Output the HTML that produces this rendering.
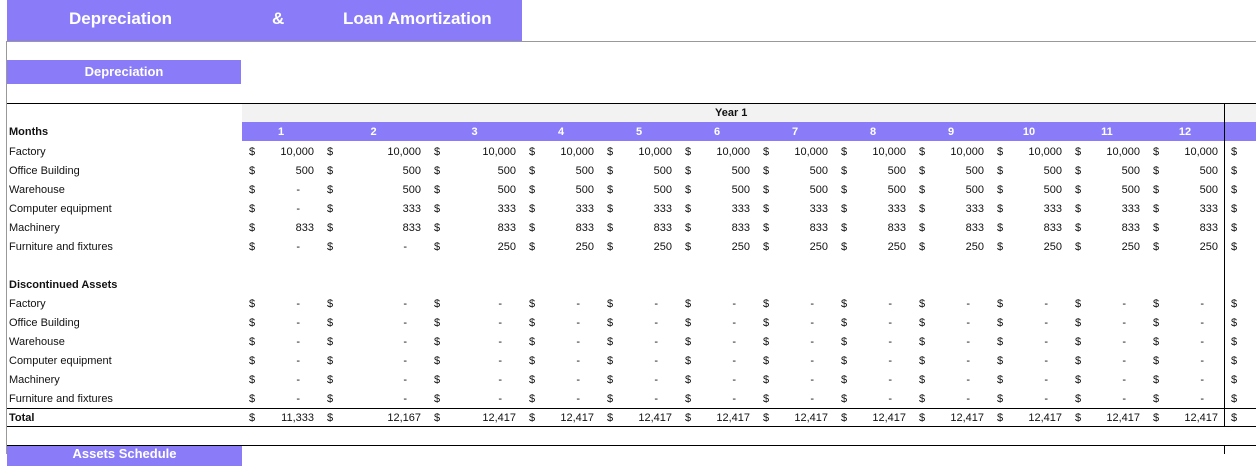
<!DOCTYPE html>
<html><head><meta charset="utf-8">
<style>
body{margin:0;width:1256px;height:454px;overflow:hidden;background:#fff;font-family:"Liberation Sans",sans-serif;font-size:11px;color:#111;position:relative}
.a{position:absolute;white-space:nowrap}
.p{background:#8a7cf8;color:#fff;font-weight:bold}
.hl{position:absolute;height:1px;background:#000}
</style></head><body>
<div class="a p" style="left:7px;top:0;width:515px;height:41px"></div>
<div class="a" style="left:69px;top:9px;color:#fff;font-weight:bold;font-size:17px">Depreciation</div>
<div class="a" style="left:272px;top:9px;color:#fff;font-weight:bold;font-size:17px">&amp;</div>
<div class="a" style="left:343px;top:9px;color:#fff;font-weight:bold;font-size:17px">Loan Amortization</div>
<div class="a" style="left:7px;top:41px;width:1249px;height:1px;background:#999"></div>
<div class="a" style="left:6px;top:41px;width:1px;height:413px;background:#999"></div>
<div class="a p" style="left:7px;top:60px;width:234px;height:24px;line-height:24px;text-align:center;font-size:13px">Depreciation</div>
<div class="hl" style="left:7px;top:103px;width:1249px"></div>
<div class="a" style="left:242px;top:104px;width:1014px;height:18px;background:#f2f2f2"></div>
<div class="a" style="left:715px;top:107px;font-weight:bold">Year 1</div>
<div class="a p" style="left:242px;top:122px;width:1014px;height:19px"></div>
<div class="hl" style="left:7px;top:408px;width:1249px"></div>
<div class="hl" style="left:7px;top:426px;width:1249px"></div>
<div class="hl" style="left:7px;top:445px;width:1249px"></div>
<div class="a" style="left:1224px;top:103px;width:1px;height:324px;background:#000"></div>
<div class="a" style="left:1224px;top:445px;width:1px;height:9px;background:#000"></div>
<div class="a p" style="left:7px;top:446px;width:235px;height:20px;line-height:16px;text-align:center;font-size:13px">Assets Schedule</div>
<div id="t"></div>
<script>
const months=[1,2,3,4,5,6,7,8,9,10,11,12];
const colStarts=[242,320,427,522,600,678,756,834,912,990,1068,1146,1224];
const rowLabels=["Factory","Office Building","Warehouse","Computer equipment","Machinery","Furniture and fixtures"];
const factory=[10000,10000,10000,10000,10000,10000,10000,10000,10000,10000,10000,10000];
const office=[500,500,500,500,500,500,500,500,500,500,500,500];
const warehouse=[0,500,500,500,500,500,500,500,500,500,500,500];
const computer=[0,333,333,333,333,333,333,333,333,333,333,333];
const machinery=[833,833,833,833,833,833,833,833,833,833,833,833];
const furniture=[0,0,250,250,250,250,250,250,250,250,250,250];
const discontinued=[0,0,0,0,0,0,0,0,0,0,0,0];
const totals=[11333,12167,12417,12417,12417,12417,12417,12417,12417,12417,12417,12417];
const T=document.getElementById('t');
function add(txt,l,t,extra){const d=document.createElement('div');d.className='a';d.textContent=txt;d.style.left=l+'px';d.style.top=t+'px';if(extra)d.style.cssText+=extra;T.appendChild(d);return d;}
function lab(txt,y,bold){const d=add(txt,9,y-7,bold?'font-weight:bold':'');

}
function row(vals,y,name){
 for(let i=0;i<13;i++){
  const s=add('$',colStarts[i]+7,y-7);
  
  
  if(i<12){
   const v=vals[i];const zero=v===0;
   const w=colStarts[i+1]-colStarts[i];
   const d=add(zero?'-':v.toLocaleString('en-US'),colStarts[i],y-7,'width:'+(w-(zero?20:6))+'px;text-align:right');
   
   
  }
 }
}
lab('Months',133,true);
months.forEach((m,i)=>{const w=colStarts[i+1]-colStarts[i];const d=add(String(m),colStarts[i],126,'width:'+w+'px;text-align:center;color:#fff;font-weight:bold');

});
const series=[factory,office,warehouse,computer,machinery,furniture];
const names=['factory','office-building','warehouse','computer-equipment','machinery','furniture-fixtures'];
series.forEach((s,i)=>{const y=153+i*19;lab(rowLabels[i],y);row(s,y,names[i]);});
lab('Discontinued Assets',286,true);
rowLabels.forEach((r,i)=>{const y=305+i*19;lab(r,y);row(discontinued,y,'discontinued-'+names[i]);});
lab('Total',419,true);
row(totals,419,'total');
</script>
</body></html>
